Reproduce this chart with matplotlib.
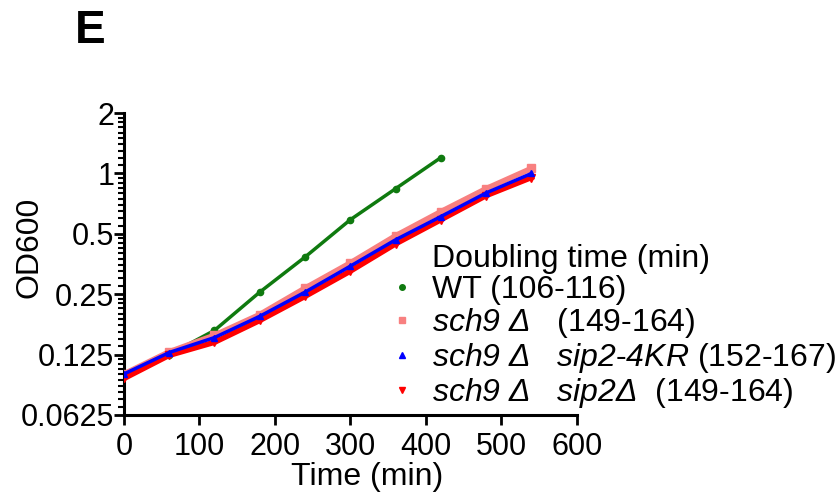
import numpy as np
import matplotlib
matplotlib.use('Agg')
import matplotlib.pyplot as plt
from matplotlib.lines import Line2D
from matplotlib.ticker import FixedLocator, FixedFormatter

plt.rcParams['font.family'] = ['Liberation Sans', 'DejaVu Sans']
plt.rcParams['mathtext.fontset'] = 'custom'
plt.rcParams['mathtext.rm'] = 'Liberation Sans:italic'
plt.rcParams['mathtext.it'] = 'Liberation Sans:italic'

# time points (min)
time = [0, 60, 120, 180, 240, 300, 360, 420, 480, 540]

# OD600
wt = [0.099, 0.125, 0.165, 0.256, 0.383, 0.588, 0.84, 1.2]
sch9 = [0.100, 0.129, 0.156, 0.198, 0.268, 0.358, 0.489, 0.645, 0.84, 1.06]
sch9_sip2_4kr = [0.100, 0.128, 0.152, 0.194, 0.256, 0.345, 0.467, 0.61, 0.80, 1.0]
sch9_sip2 = [0.095, 0.124, 0.144, 0.185, 0.244, 0.326, 0.446, 0.588, 0.776, 0.955]

labels = ['WT (106-116)',
          r'$\mathit{sch9\ Δ}$   (149-164)',
          r'$\mathit{sch9\ Δ}$   $\mathit{sip2}$-$\mathit{4KR}$ (152-167)',
          r'$\mathit{sch9\ Δ}$   $\mathit{sip2Δ}$  (149-164)']

y_ticks = [0.0625, 0.125, 0.25, 0.5, 1, 2]
y_ticklabels = ['0.0625', '0.125', '0.25', '0.5', '1', '2']

fig = plt.figure(figsize=(8.37, 4.94), dpi=100)
ax = fig.add_axes([0.148, 0.16, 0.541, 0.611])

ax.plot(time[:len(wt)], wt, color='#0f7a0f', lw=2.5, marker='o', ms=4.5, zorder=3)
ax.plot(time, sch9, color='#f88080', lw=4, marker='s', ms=6, zorder=4)
ax.plot(time, sch9_sip2, color='#ff0000', lw=4, marker='v', ms=6, zorder=5)
ax.plot(time, sch9_sip2_4kr, color='#0000ff', lw=2.5, marker='^', ms=4.5, zorder=6)

ax.set_yscale('log', base=2)
ax.set_ylim(0.0625, 2)
ax.set_xlim(0, 600)
ax.yaxis.set_major_locator(FixedLocator(y_ticks))
ax.yaxis.set_major_formatter(FixedFormatter(y_ticklabels))
minor = []
for base in y_ticks[:-1]:
    minor += [base * (1 + k / 10) for k in range(1, 10)]
ax.yaxis.set_minor_locator(FixedLocator(minor))
ax.yaxis.set_minor_formatter(FixedFormatter([''] * len(minor)))
ax.set_xticks(np.arange(0, 601, 100))

for s in ['top', 'right']:
    ax.spines[s].set_visible(False)
for s in ['left', 'bottom']:
    ax.spines[s].set_linewidth(2.2)
ax.tick_params(which='major', width=2, length=7, labelsize=22, pad=0)
ax.tick_params(which='minor', width=1.5, length=4)
ax.tick_params(axis='x', pad=5)

ax.set_xlabel('Time (min)', fontsize=23)
ax.xaxis.set_label_coords(0.537, -0.156)
ax.set_ylabel('OD600', fontsize=23)
ax.yaxis.set_label_coords(-0.176, 0.556)

handles = [Line2D([], [], ls='none'),
           Line2D([], [], ls='none', marker='o', color='#0f7a0f', ms=4),
           Line2D([], [], ls='none', marker='s', color='#f88080', ms=5),
           Line2D([], [], ls='none', marker='^', color='#0000ff', ms=4),
           Line2D([], [], ls='none', marker='v', color='#ff0000', ms=5)]
ax.legend(handles, ['Doubling time (min)'] + labels, loc='upper left',
          bbox_to_anchor=(0.461, 0.506), bbox_transform=fig.transFigure,
          frameon=False, fontsize=23, handlelength=1.0, handletextpad=0.44,
          labelspacing=0.03, borderpad=0, borderaxespad=0)

fig.text(0.09, 0.937, 'E', fontsize=33, fontweight='bold', ha='left', va='center')

fig.savefig('out.png', dpi=100)
